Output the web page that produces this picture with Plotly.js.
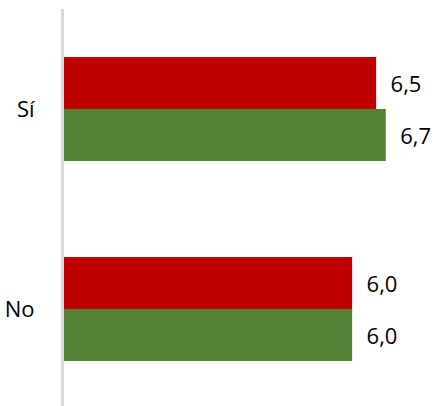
<!DOCTYPE html>
<html>
<head>
<meta charset="utf-8">
<script src="https://cdn.plot.ly/plotly-3.0.1.min.js"></script>
<style>html,body{margin:0;padding:0;background:#fff;}#chart{width:436px;height:406px;}</style>
</head>
<body>
<div id="chart"></div>
<script>
const categories = ['Sí', 'No'];
const seriesRedName = 'Serie 1';
const seriesRed = [6.5, 6.0];
const seriesGreenName = 'Serie 2';
const seriesGreen = [6.7, 6.0];

const labelFont = {family: 'Open Sans, Noto Sans, sans-serif', size: 22, color: '#000'};

const traces = [
  {type: 'bar', orientation: 'h', name: seriesRedName, y: categories, x: seriesRed,
   marker: {color: '#C00000'}, text: seriesRed,
   texttemplate: '\u00a0\u00a0%{x:.1f}', textposition: 'outside', cliponaxis: false,
   textfont: labelFont, hoverinfo: 'x+y'},
  {type: 'bar', orientation: 'h', name: seriesGreenName, y: categories, x: seriesGreen,
   marker: {color: '#548235'}, text: seriesGreen,
   texttemplate: '\u00a0\u00a0%{x:.1f}', textposition: 'outside', cliponaxis: false,
   textfont: labelFont, hoverinfo: 'x+y'}
];

const layout = {
  width: 436, height: 406,
  margin: {l: 64, r: 20, t: 9, b: 0, pad: 0},
  paper_bgcolor: '#fff', plot_bgcolor: '#fff',
  separators: ',.',
  barmode: 'group', bargap: 0.48, bargroupgap: 0,
  showlegend: false,
  xaxis: {range: [0, 7.33], visible: false, showgrid: false, zeroline: false, fixedrange: true},
  yaxis: {type: 'category', range: [1.485, -0.5], showline: true, linecolor: '#d9d9d9', linewidth: 3,
          showgrid: false, zeroline: false, ticks: 'outside', ticklen: 22, tickcolor: 'rgba(0,0,0,0)',
          tickfont: {family: 'Open Sans, Noto Sans, sans-serif', size: 22, color: '#000'}, fixedrange: true},
  font: {family: 'Open Sans, Noto Sans, sans-serif'}
};

Plotly.newPlot('chart', traces, layout, {displayModeBar: false, staticPlot: true});
</script>
</body>
</html>
